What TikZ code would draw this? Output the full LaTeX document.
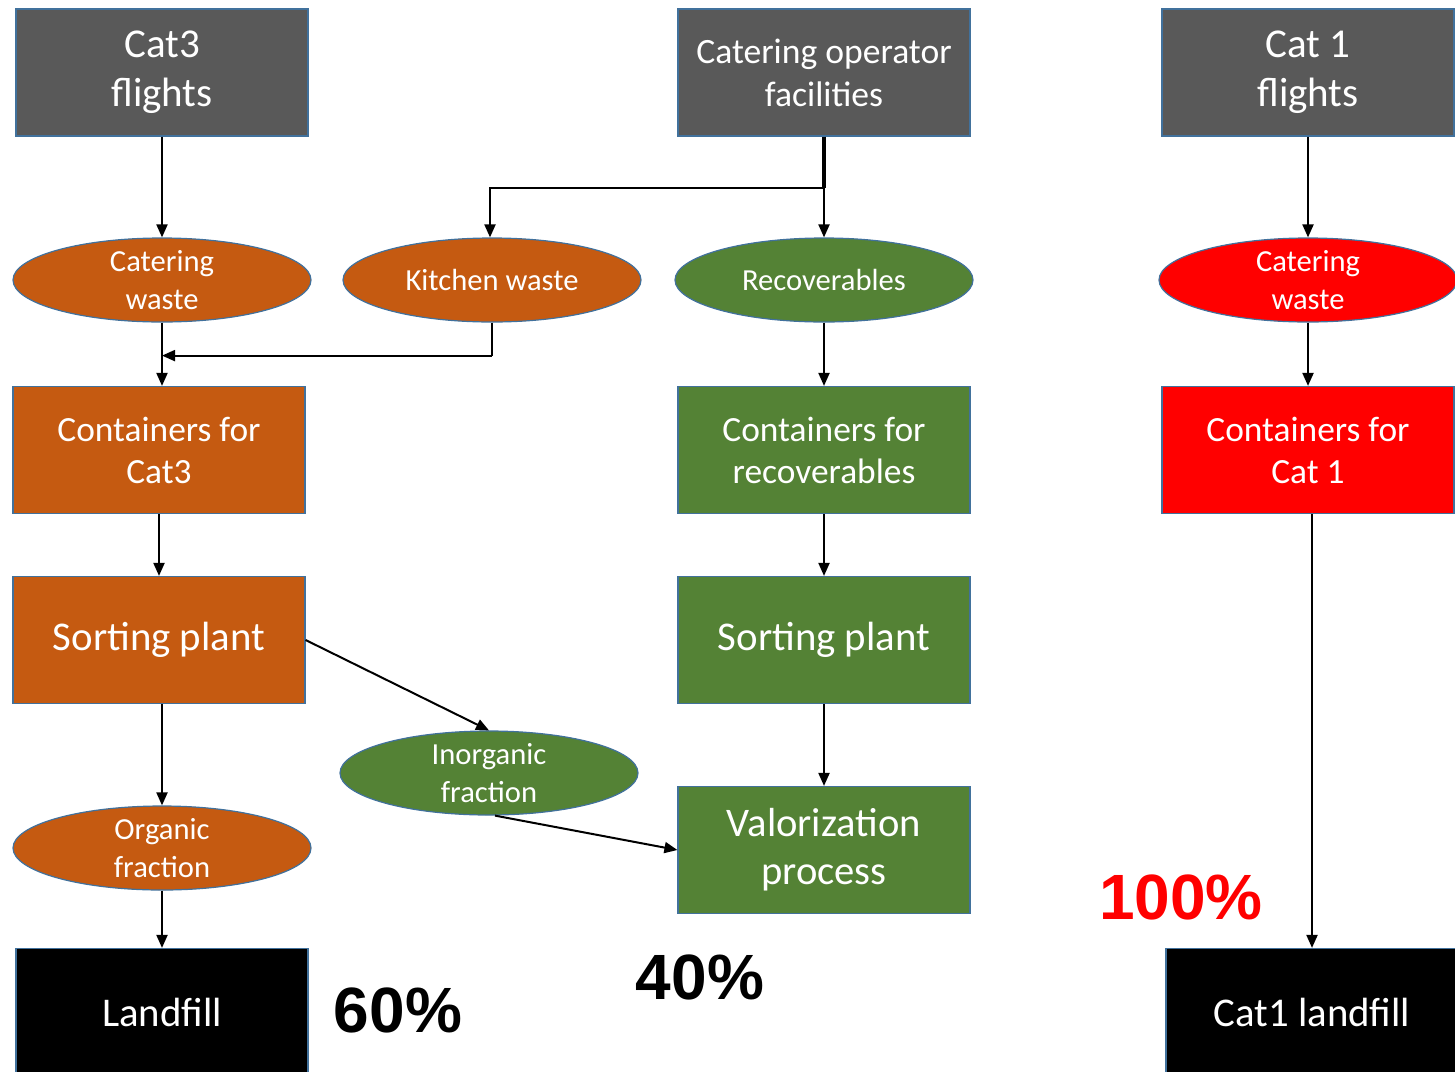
\documentclass[tikz,border=0pt]{standalone}
\usepackage{fontspec}
\setmainfont{Carlito}
\newfontfamily\pctfont{Liberation Sans}
\usetikzlibrary{shapes.geometric,arrows.meta,calc,positioning}

\begin{document}
\begin{tikzpicture} [x=0.5pt, y=-0.5pt,
box/.style    = { rectangle, draw=edge_color, line width=0.6pt,
    text=white, align=center, inner sep=0pt,
    minimum width=146pt, minimum height=63.5pt },
src/.style    = { box, fill=src_color, font=\fontsize{20.5}{24.5}\selectfont },
catbox/.style = { box, fill=cat3_color, font=\fontsize{17.7}{21}\selectfont },
recbox/.style = { box, fill=rec_color, font=\fontsize{17.7}{21}\selectfont },
redbox/.style = { box, fill=cat1_color, font=\fontsize{17.7}{21}\selectfont },
sink/.style   = { box, fill=black, font=\fontsize{20.4}{24}\selectfont },
blob/.style   = { ellipse, draw=edge_color, line width=0.6pt,
    text=white, align=center, inner xsep=0pt, inner ysep=-3pt,
    minimum width=149pt, minimum height=42pt,
    font=\fontsize{15.3}{19}\selectfont },
pct/.style    = { font=\pctfont\bfseries\fontsize{32}{38}\selectfont },
line/.style   = { draw, line width=1pt, -{Triangle[length=6.5pt,width=5.5pt]} },
]
\definecolor{src_color}{RGB}{89,89,89}
\definecolor{cat3_color}{RGB}{197,90,17}
\definecolor{rec_color}{RGB}{84,130,53}
\definecolor{cat1_color}{RGB}{255,0,0}
\definecolor{edge_color}{RGB}{65,113,156}

\useasboundingbox (0,0) rectangle (1455,1071);

% Cat3 column
\node [src] (flights3) at (162,72.5) {Cat3\\flights};
\node [blob, fill=cat3_color] (waste3) at (162,280) {Catering\\waste};
\node [catbox] (cont3) at (159,450) {Containers for\\Cat3};
\node [catbox, font=\fontsize{20.4}{24}\selectfont] (sort3) at (159,640) {Sorting plant};
\node [blob, fill=cat3_color] (organic) at (162,848) {Organic\\fraction};
\node [sink] (landfill) at (162,1012) {Landfill};

% catering operator column
\node [src, font=\fontsize{17.8}{21.5}\selectfont] (operator) at (824,72.5) {Catering operator\\facilities};
\node [blob, fill=cat3_color] (kitchen) at (492,280) {Kitchen waste};
\node [blob, fill=rec_color] (recov) at (824,280) {Recoverables};
\node [recbox] (contrec) at (824,450) {Containers for\\recoverables};
\node [recbox, font=\fontsize{20.4}{24}\selectfont] (sortrec) at (824,640) {Sorting plant};
\node [blob, fill=rec_color] (inorganic) at (489,773) {Inorganic\\fraction};
\node [recbox, font=\fontsize{20.3}{24}\selectfont] (valor) at (824,850) {Valorization\\process};

% Cat 1 column
\node [src] (flights1) at (1308,72.5) {Cat 1\\flights};
\node [blob, fill=cat1_color] (waste1) at (1308,280) {Catering\\waste};
\node [redbox] (cont1) at (1308,450) {Containers for\\Cat 1};
\node [sink] (landfill1) at (1312,1012) {Cat1 landfill};

% shares
\node [pct] (share60) at (398,1010) {60\%};
\node [pct] (share40) at (700,977) {40\%};
\node [pct, text=cat1_color] (share100) at (1181,897) {100\%};

% connect all nodes defined above
\path (operator.south) ++(0,51) coordinate (split);
\path (kitchen.south) ++(0,33) coordinate (kbend);
\coordinate (join) at (waste3.south |- kbend);
\begin{scope} [every path/.style=line]
\path (flights3)     --  (waste3);
\path (waste3)       --  (cont3.north -| waste3);
\path (kbend)        --  (join);
\path (cont3)        --  (sort3);
\path (sort3.south -| organic) -- (organic);
\path (organic)      --  (landfill);
\path (split)        -|  ([xshift=-1pt]kitchen.north);
\path (split)        --  (recov.north);
\path (recov)        --  (contrec);
\path (contrec)      --  (sortrec);
\path (sortrec)      --  (valor);
\path (sort3.east)   --  (inorganic.north);
\path (inorganic.south) ++(6,0) -- (valor.west);
\path (flights1)     --  (waste1);
\path (waste1)       --  (cont1);
\path (cont1.south) ++(4,0) -- (landfill1.north);
\end{scope}
\draw [line width=1pt] (kitchen.south) -- (kbend);
\draw [line width=2pt] (operator.south) -- (split);

\end{tikzpicture}
\end{document}
